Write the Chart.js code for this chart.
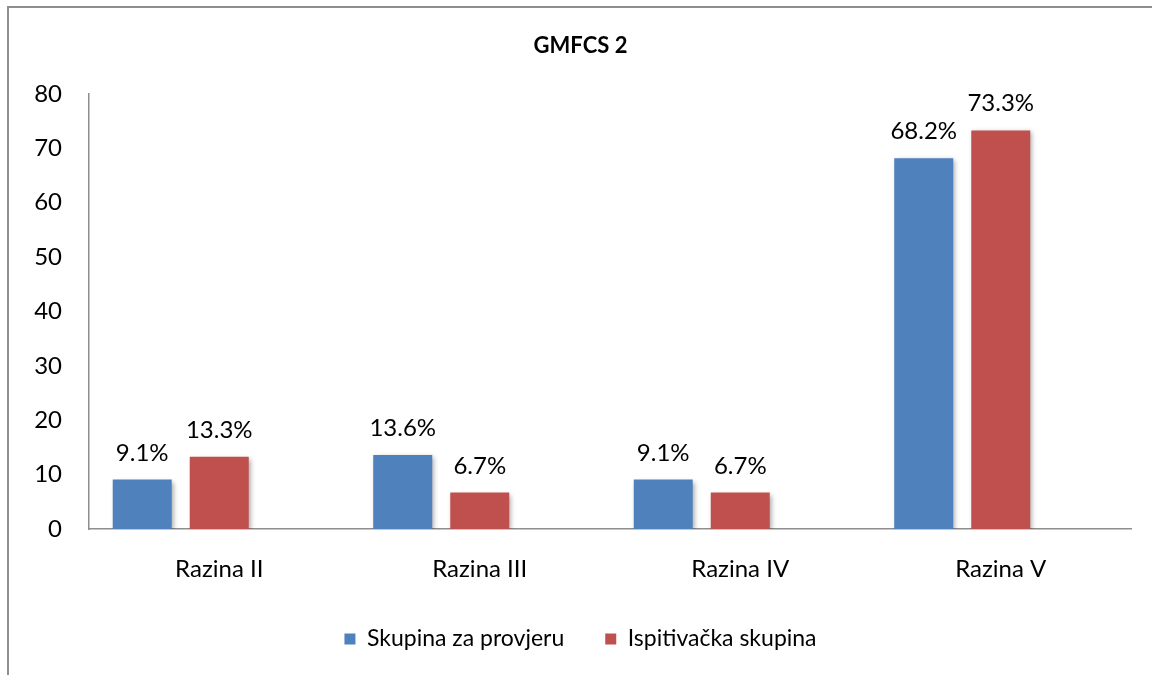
<!DOCTYPE html>
<html>
<head>
<meta charset="utf-8">
<script src="https://cdn.jsdelivr.net/npm/chart.js@4/dist/chart.umd.min.js"></script>
<style>
  html, body { margin: 0; padding: 0; background: #fff; overflow: hidden; }
  #frame { position: absolute; left: 7px; top: 6px; width: 1200px; height: 720px; border-left: 2px solid #8e8e8e; border-top: 2px solid #8e8e8e; }
  #wrap { position: absolute; left: 0; top: 0; width: 1152px; height: 675px; }
</style>
</head>
<body>
<div id="frame"></div>
<div id="wrap"><canvas id="myChart"></canvas></div>
<script>
const categories = ["Razina II", "Razina III", "Razina IV", "Razina V"];
const controlGroup = [9.1, 13.6, 9.1, 68.2];
const testGroup = [13.3, 6.7, 6.7, 73.3];
// third, empty series (reserves a slot in each group, like the original)
const emptySeries = [null, null, null, null];
const seriesNames = ["Skupina za provjeru", "Ispitivačka skupina", ""];
const seriesColors = ["#4f81bd", "#c0504d", "#9bbb59"];
const yMin = 0;
const yMax = 80;
const yStep = 10;

const fontName = "Lato, 'Open Sans', sans-serif";

// soft shadow under the bars + value labels on top
const barExtras = {
  id: "barExtras",
  beforeDatasetsDraw(chart) {
    const ctx = chart.ctx;
    ctx.save();
    ctx.shadowColor = "rgba(0,0,0,0.35)";
    ctx.shadowBlur = 5;
    ctx.shadowOffsetX = 2;
    ctx.shadowOffsetY = 2;
  },
  afterDatasetsDraw(chart) {
    const ctx = chart.ctx;
    ctx.restore();
    ctx.save();
    ctx.font = "24px " + fontName;
    ctx.fillStyle = "#000";
    ctx.textAlign = "center";
    ctx.textBaseline = "alphabetic";
    chart.data.datasets.forEach((ds, i) => {
      chart.getDatasetMeta(i).data.forEach((bar, j) => {
        const v = ds.data[j];
        if (v === null) return;
        ctx.fillText(v.toFixed(1) + "%", bar.x, bar.y - 19);
      });
    });
    ctx.restore();
  },
};

const ctx = document.getElementById("myChart");
new Chart(ctx, {
  type: "bar",
  data: {
    labels: categories,
    datasets: [
      { label: seriesNames[0], data: controlGroup, backgroundColor: seriesColors[0] },
      { label: seriesNames[1], data: testGroup, backgroundColor: seriesColors[1] },
      { label: seriesNames[2], data: emptySeries, backgroundColor: seriesColors[2] },
    ],
  },
  options: {
    responsive: true,
    maintainAspectRatio: false,
    animation: false,
    datasets: {
      bar: { categoryPercentage: 0.887, barPercentage: 0.766 },
    },
    layout: { padding: { left: 30, right: 21, top: 0, bottom: 14.5 } },
    plugins: {
      title: {
        display: true,
        text: "GMFCS 2",
        color: "#000",
        font: { family: fontName, size: 22, weight: "bold" },
        padding: { top: 33, bottom: 34.6 },
      },
      legend: {
        position: "bottom",
        labels: {
          filter: (item) => item.datasetIndex < 2,
          boxWidth: 11,
          boxHeight: 11,
          padding: 41,
          color: "#000",
          font: { family: fontName, size: 23 },
        },
      },
      tooltip: { enabled: false },
    },
    scales: {
      x: {
        grid: { display: false, drawTicks: false },
        border: { color: "#8e8e8e", width: 1.5 },
        ticks: { color: "#000", padding: 26, font: { family: fontName, size: 24 } },
        afterFit: (scale) => { scale.height = 57.5; },
      },
      y: {
        min: yMin,
        max: yMax,
        grid: { display: false, drawTicks: false },
        border: { color: "#8e8e8e", width: 1.5 },
        ticks: { stepSize: yStep, color: "#000", padding: 27, font: { family: fontName, size: 24 } },
        afterFit: (scale) => { scale.width = 59; },
      },
    },
  },
  plugins: [barExtras],
});
</script>
</body>
</html>
